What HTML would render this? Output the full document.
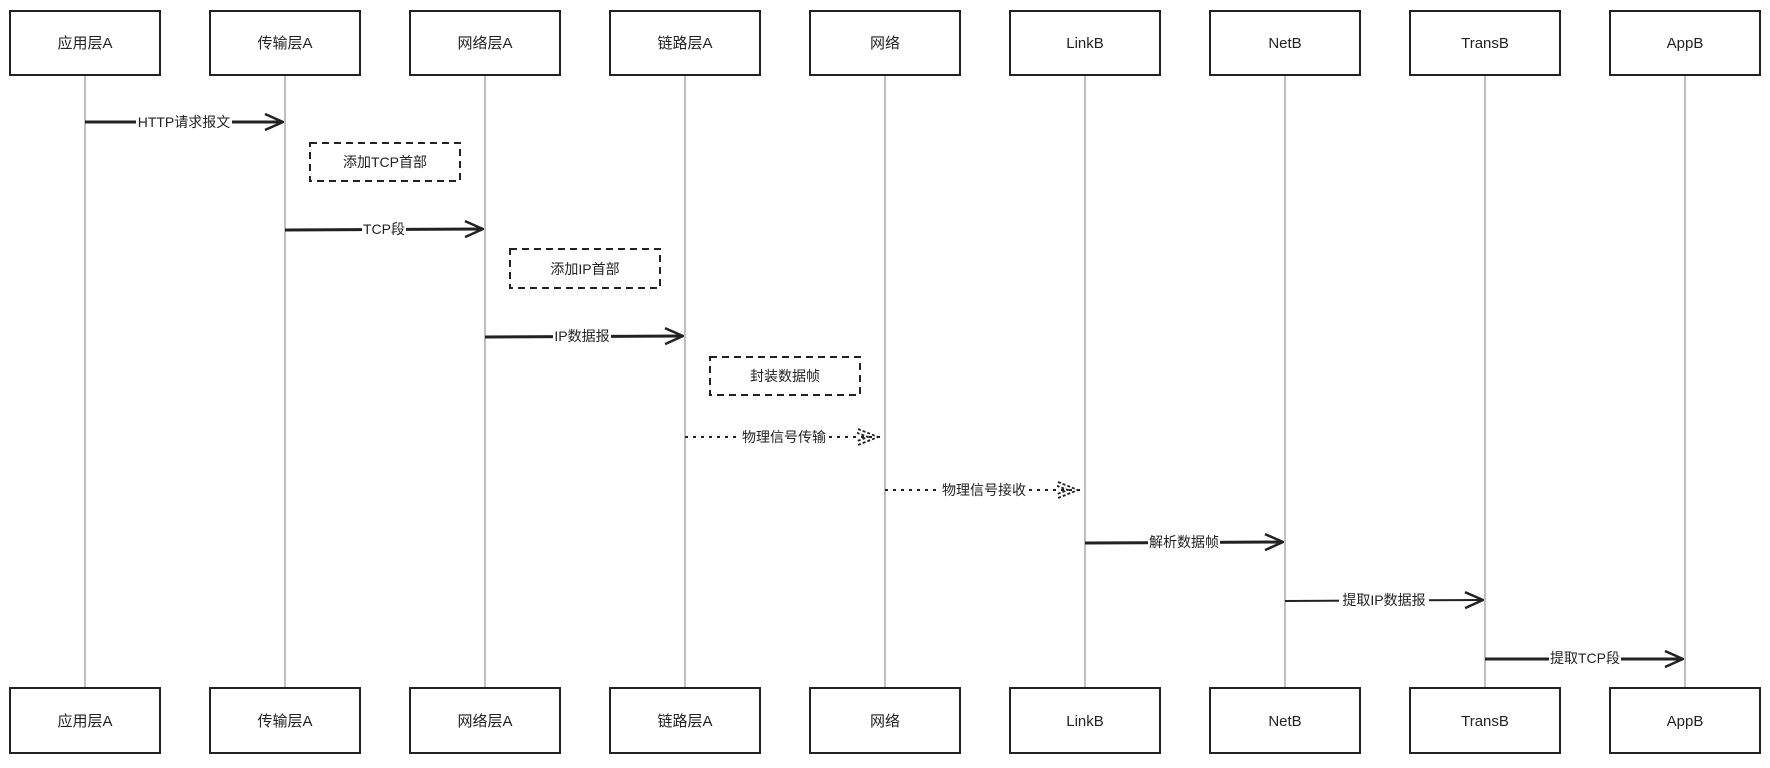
<!DOCTYPE html>
<html><head><meta charset="utf-8"><style>
html,body{margin:0;padding:0;background:#fff;}
svg text{font-family:"Liberation Sans","Noto Sans CJK SC",sans-serif;fill:#222;}
</style></head><body>
<svg width="1770" height="763" viewBox="0 0 1770 763" xmlns="http://www.w3.org/2000/svg">
<defs>
<marker id="a" viewBox="0 0 20 20" refX="19" refY="10" markerWidth="20" markerHeight="20" markerUnits="userSpaceOnUse" orient="auto">
<path d="M1,2 L19,10 L1,18" fill="none" stroke="#222" stroke-width="2.5"/></marker>
<marker id="d" viewBox="0 0 24 20" refX="23" refY="10" markerWidth="24" markerHeight="20" markerUnits="userSpaceOnUse" orient="auto">
<path d="M1,2 L21,10 L1,18 M-5,4 L11,10 L-5,16" fill="none" stroke="#222" stroke-width="1.8" stroke-dasharray="3,2"/></marker>
</defs>
<g stroke="#aaa" stroke-width="1.5">
<line x1="85" y1="75" x2="85" y2="688"/><line x1="285" y1="75" x2="285" y2="688"/><line x1="485" y1="75" x2="485" y2="688"/>
<line x1="685" y1="75" x2="685" y2="688"/><line x1="885" y1="75" x2="885" y2="688"/><line x1="1085" y1="75" x2="1085" y2="688"/>
<line x1="1285" y1="75" x2="1285" y2="688"/><line x1="1485" y1="75" x2="1485" y2="688"/><line x1="1685" y1="75" x2="1685" y2="688"/>
</g>
<g fill="#fff" stroke="#222" stroke-width="2">
<rect x="10" y="11" width="150" height="64"/><rect x="210" y="11" width="150" height="64"/><rect x="410" y="11" width="150" height="64"/>
<rect x="610" y="11" width="150" height="64"/><rect x="810" y="11" width="150" height="64"/><rect x="1010" y="11" width="150" height="64"/>
<rect x="1210" y="11" width="150" height="64"/><rect x="1410" y="11" width="150" height="64"/><rect x="1610" y="11" width="150" height="64"/>
<rect x="10" y="688" width="150" height="65"/><rect x="210" y="688" width="150" height="65"/><rect x="410" y="688" width="150" height="65"/>
<rect x="610" y="688" width="150" height="65"/><rect x="810" y="688" width="150" height="65"/><rect x="1010" y="688" width="150" height="65"/>
<rect x="1210" y="688" width="150" height="65"/><rect x="1410" y="688" width="150" height="65"/><rect x="1610" y="688" width="150" height="65"/>
</g>
<g font-size="15" text-anchor="middle">
<text x="85" y="48">应用层A</text><text x="285" y="48">传输层A</text><text x="485" y="48">网络层A</text>
<text x="685" y="48">链路层A</text><text x="885" y="48">网络</text><text x="1085" y="48">LinkB</text>
<text x="1285" y="48">NetB</text><text x="1485" y="48">TransB</text><text x="1685" y="48">AppB</text>
<text x="85" y="726">应用层A</text><text x="285" y="726">传输层A</text><text x="485" y="726">网络层A</text>
<text x="685" y="726">链路层A</text><text x="885" y="726">网络</text><text x="1085" y="726">LinkB</text>
<text x="1285" y="726">NetB</text><text x="1485" y="726">TransB</text><text x="1685" y="726">AppB</text>
</g>
<g fill="none" stroke="#222" stroke-width="2" stroke-dasharray="7,5">
<rect x="310" y="143" width="150" height="38"/><rect x="510" y="249" width="150" height="39"/><rect x="710" y="357" width="150" height="38"/>
</g>
<g font-size="14" text-anchor="middle">
<text x="385" y="167">添加TCP首部</text><text x="585" y="274">添加IP首部</text><text x="785" y="381">封装数据帧</text>
</g>
<g stroke="#222" stroke-width="3" fill="none">
<line x1="85" y1="122" x2="283" y2="122" marker-end="url(#a)"/>
<line x1="285" y1="230" x2="483" y2="229" marker-end="url(#a)"/>
<line x1="485" y1="337" x2="683" y2="336" marker-end="url(#a)"/>
<line x1="1085" y1="543" x2="1283" y2="542" marker-end="url(#a)"/>
<line x1="1285" y1="601" x2="1483" y2="600" stroke-width="2" marker-end="url(#a)"/>
<line x1="1485" y1="659" x2="1683" y2="659" marker-end="url(#a)"/>
</g>
<g stroke="#222" stroke-width="2" fill="none" stroke-dasharray="3,5">
<line x1="685" y1="437" x2="880" y2="437" marker-end="url(#d)"/>
<line x1="885" y1="490" x2="1080" y2="490" marker-end="url(#d)"/>
</g>
<g font-size="14" text-anchor="middle">
<rect x="136" y="112" width="96" height="18" fill="#fff"/><text x="184" y="127">HTTP请求报文</text>
<rect x="362" y="219" width="44" height="18" fill="#fff"/><text x="384" y="234">TCP段</text>
<rect x="553" y="326" width="58" height="18" fill="#fff"/><text x="582" y="341">IP数据报</text>
<rect x="741" y="427" width="86" height="18" fill="#fff"/><text x="784" y="442">物理信号传输</text>
<rect x="941" y="480" width="86" height="18" fill="#fff"/><text x="984" y="495">物理信号接收</text>
<rect x="1148" y="532" width="72" height="18" fill="#fff"/><text x="1184" y="547">解析数据帧</text>
<rect x="1339" y="590" width="90" height="18" fill="#fff"/><text x="1384" y="605">提取IP数据报</text>
<rect x="1549" y="648" width="72" height="18" fill="#fff"/><text x="1585" y="663">提取TCP段</text>
</g>
</svg>
</body></html>
